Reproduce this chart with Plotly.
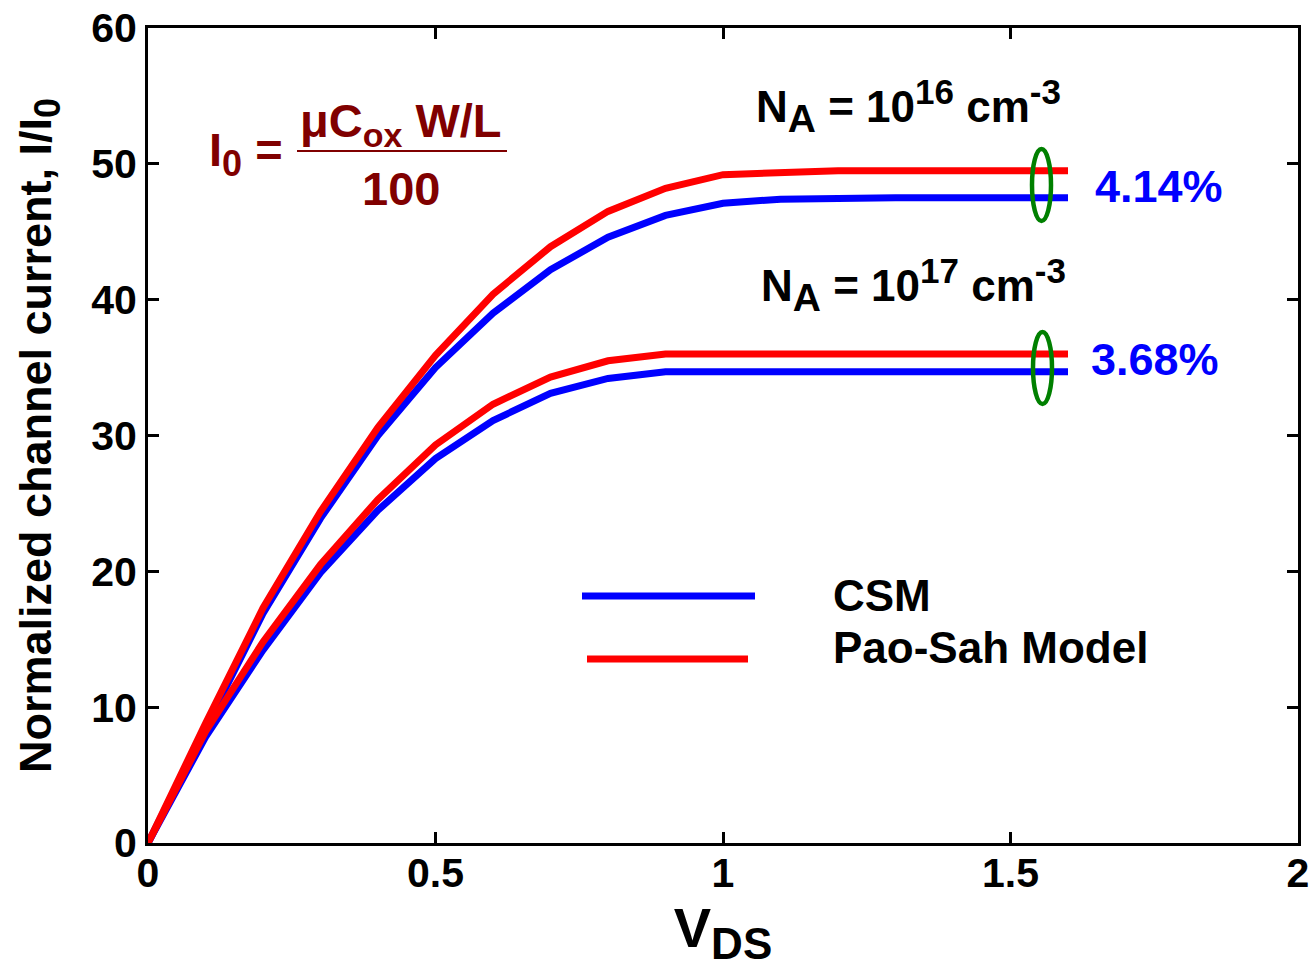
import plotly.graph_objects as go

# ---------------- data ----------------
vds = [0.0, 0.1, 0.2, 0.3, 0.4, 0.5, 0.6, 0.7, 0.8, 0.9, 1.0, 1.1, 1.2, 1.3, 1.4, 1.5, 1.6]

csm_1e16 = [0, 8.5, 16.9, 23.9, 30.0, 35.0, 39.0, 42.2, 44.6, 46.2, 47.1, 47.4, 47.5, 47.5, 47.5, 47.5, 47.5]
paosah_1e16 = [0, 8.8, 17.3, 24.4, 30.6, 35.9, 40.4, 43.9, 46.5, 48.2, 49.2, 49.4, 49.5, 49.5, 49.5, 49.5, 49.5]
csm_1e17 = [0, 7.8, 14.2, 19.9, 24.5, 28.3, 31.1, 33.1, 34.2, 34.7, 34.7, 34.7, 34.7, 34.7, 34.7, 34.7, 34.7]
paosah_1e17 = [0, 8.2, 14.8, 20.5, 25.3, 29.3, 32.3, 34.3, 35.5, 36.0, 36.0, 36.0, 36.0, 36.0, 36.0, 36.0, 36.0]

x_ticks = [0, 0.5, 1, 1.5, 2]
y_ticks = [0, 10, 20, 30, 40, 50, 60]

series_names = ["CSM", "Pao-Sah Model"]
pct_labels = ["4.14%", "3.68%"]

# ---------------- style ----------------
BLUE = "#0000FF"
RED = "#FF0000"
GREEN = "#008000"
DRED = "#800000"
FONT = "Liberation Sans, Arial, sans-serif"
LW = 7

# plot area in pixels (for placing decorations)
L, R, T, B = 148, 1298, 28, 843
def X(px):
    return (px - L) / (R - L) * 2.0
def Y(py):
    return (B - py) / (B - T) * 60.0

def sub(t, size):
    return '<sub><span style="font-size:%dpx">%s</span></sub>' % (size, t)
def sup(t, size):
    return '<sup><span style="font-size:%dpx">%s</span></sup>' % (size, t)

fig = go.Figure()
for ys, col in [(csm_1e16, BLUE), (paosah_1e16, RED), (csm_1e17, BLUE), (paosah_1e17, RED)]:
    fig.add_trace(go.Scatter(x=vds, y=ys, mode="lines",
                             line=dict(color=col, width=LW),
                             showlegend=False, hoverinfo="skip"))

ann = []
def txt(x, y, text, size, color="black", xa="center", ya="middle"):
    ann.append(dict(x=X(x), y=Y(y), xref="x", yref="y", text=text, showarrow=False,
                    xanchor=xa, yanchor=ya,
                    font=dict(family=FONT, size=size, color=color)))

# NA labels
txt(754, 106, "<b>N" + sub("A", 39) + " = 10" + sup("16", 35) + " cm" + sup("-3", 35) + "</b>", 44, xa="left")
txt(759, 285, "<b>N" + sub("A", 39) + " = 10" + sup("17", 35) + " cm" + sup("-3", 35) + "</b>", 44, xa="left")
# percentages
txt(1159, 186, "<b>%s</b>" % pct_labels[0], 45, BLUE)
txt(1155, 359, "<b>%s</b>" % pct_labels[1], 45, BLUE)
# I0 formula
txt(207, 153, "<b>I" + sub("0", 36) + " =</b>", 47, DRED, xa="left")
txt(401, 124, "<b>μC" + sub("ox", 34) + " W/L</b>", 47, DRED)
txt(401, 188, "<b>100</b>", 47, DRED)
# legend texts
txt(831, 595, "<b>%s</b>" % series_names[0], 44, xa="left")
txt(831, 647, "<b>%s</b>" % series_names[1], 44, xa="left")

shapes = []
# fraction bar
shapes.append(dict(type="line", xref="x", yref="y", x0=X(297), x1=X(507), y0=Y(151), y1=Y(151),
                   line=dict(color=DRED, width=2)))
# green ellipses
shapes.append(dict(type="circle", xref="x", yref="y", x0=X(1032), x1=X(1051), y0=Y(149), y1=Y(221),
                   line=dict(color=GREEN, width=4.5)))
shapes.append(dict(type="circle", xref="x", yref="y", x0=X(1033), x1=X(1052), y0=Y(332), y1=Y(404),
                   line=dict(color=GREEN, width=4.5)))
# legend lines
shapes.append(dict(type="line", xref="x", yref="y", x0=X(582), x1=X(755), y0=Y(596), y1=Y(596),
                   line=dict(color=BLUE, width=LW)))
shapes.append(dict(type="line", xref="x", yref="y", x0=X(587), x1=X(748), y0=Y(659), y1=Y(659),
                   line=dict(color=RED, width=LW)))

axis_common = dict(showline=True, linecolor="black", linewidth=3, mirror="allticks",
                   ticks="inside", ticklen=11, tickwidth=3, tickcolor="black",
                   showgrid=False, zeroline=False,
                   tickfont=dict(family=FONT, size=41, color="black"))

fig.update_layout(
    width=1311, height=971,
    margin=dict(l=L, r=1311 - R, t=T, b=971 - B, autoexpand=False),
    plot_bgcolor="white", paper_bgcolor="white",
    showlegend=False,
    annotations=ann, shapes=shapes,
    xaxis=dict(range=[0, 2], tickvals=x_ticks, ticktext=["<b>%g</b>" % v for v in x_ticks],
               ticklabelstandoff=-8,
               title=dict(text="<b>V" + sub("DS", 44) + "</b>", font=dict(family=FONT, size=56, color="black"),
                          standoff=4),
               **axis_common),
    yaxis=dict(range=[0, 60], tickvals=y_ticks, ticktext=["<b>%g</b>" % v for v in y_ticks],
               title=dict(text="<b>Normalized channel current, I/I" + sub("0", 36) + "</b>",
                          font=dict(family=FONT, size=45, color="black"), standoff=26),
               **axis_common),
)

fig.write_html("out.html")
